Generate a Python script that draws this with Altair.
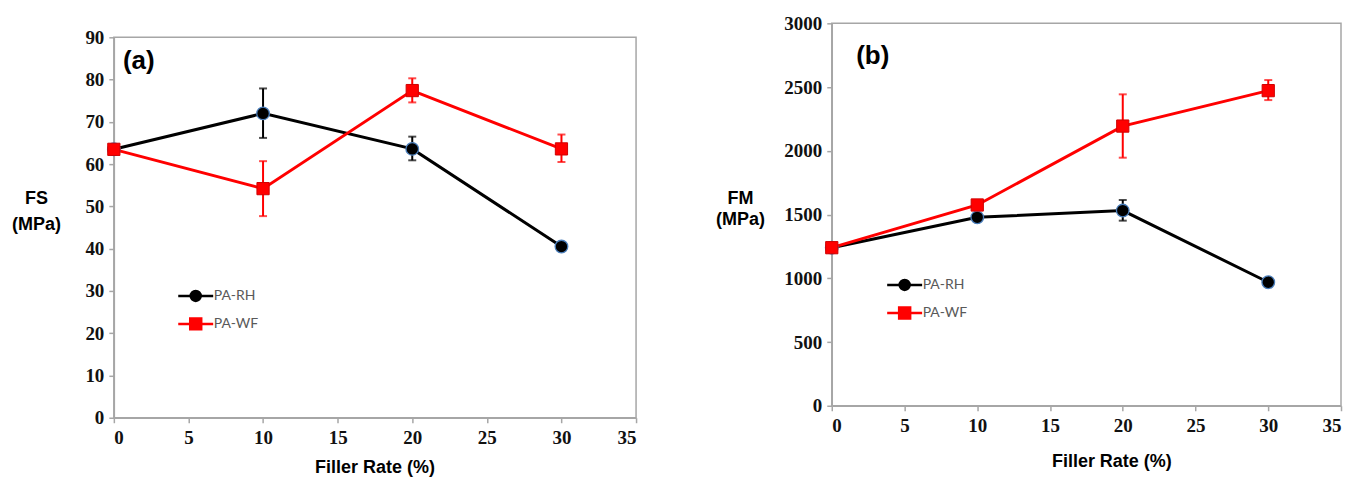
import altair as alt
import pandas as pd

# ---------------- data ----------------
FILLER = [0, 10, 20, 30]
SERIES = ["PA-RH", "PA-WF"]
COLORS = ["#000000", "#ff0000"]

# (a) flexural strength FS (MPa)
FS_RH = [63.5, 72.0, 63.6, 40.5]
FS_RH_LO = [None, 66.2, 60.9, None]
FS_RH_HI = [None, 77.9, 66.5, None]
FS_WF = [63.5, 54.2, 77.4, 63.6]
FS_WF_LO = [None, 47.7, 74.6, 60.5]
FS_WF_HI = [None, 60.7, 80.3, 67.0]

# (b) flexural modulus FM (MPa)
FM_RH = [1240, 1478, 1531, 969]
FM_RH_LO = [None, None, 1452, None]
FM_RH_HI = [None, None, 1614, None]
FM_WF = [1240, 1575, 2194, 2472]
FM_WF_LO = [None, None, 1946, 2398]
FM_WF_HI = [None, None, 2443, 2555]

X_TICKS = [0, 5, 10, 15, 20, 25, 30, 35]
FS_TICKS = [0, 10, 20, 30, 40, 50, 60, 70, 80, 90]
FM_TICKS = [0, 500, 1000, 1500, 2000, 2500, 3000]

X_TITLE = "Filler Rate (%)"
FS_TITLE = ["FS", "(MPa)"]
FM_TITLE = ["FM", "(MPa)"]
PANEL_LABELS = ["(a)", "(b)"]

# legend symbols: line through a marker (custom paths, unit = 5 px)
CIRCLE_PATH = "M-3.5,0H3.5M1,0A1,1,0,1,1,-1,0A1,1,0,1,1,1,0Z"
SQUARE_PATH = "M-3.5,0H3.5M-1.1,-1.1H1.1V1.1H-1.1Z"

AXIS_GRAY = "#a6a6a6"


def series_df(name, vals, lo, hi):
    return pd.DataFrame({"filler": FILLER, "value": vals, "lo": lo, "hi": hi, "series": name})


def panel(rh, rh_lo, rh_hi, wf, wf_lo, wf_hi, ydom, yticks, ytitle, label,
          width, height, ytitle_x, ytitle_y, ytitle_lh, leg_x, leg_y, leg_pad,
          label_x, label_y, xtitle_pad, xtitle_x):
    d_rh = series_df(SERIES[0], rh, rh_lo, rh_hi)
    d_wf = series_df(SERIES[1], wf, wf_lo, wf_hi)
    both = pd.concat([d_rh, d_wf], ignore_index=True)

    x_axis = alt.Axis(values=X_TICKS, title=X_TITLE, grid=False, titlePadding=xtitle_pad,
                      titleX=xtitle_x, labelPadding=6, format="d")
    y_axis = alt.Axis(values=yticks, title=ytitle, grid=False, titleAngle=0,
                      titleX=ytitle_x, titleY=ytitle_y, titleAlign="center",
                      titleBaseline="middle", titleLineHeight=ytitle_lh, labelPadding=5,
                      format="d")
    xs = alt.Scale(domain=[0, 35], nice=False)
    ys = alt.Scale(domain=ydom, nice=False)

    def X():
        return alt.X("filler:Q", scale=xs, axis=x_axis)

    def Y(f):
        return alt.Y(f"{f}:Q", scale=ys, axis=y_axis)

    layers = []
    for d, col in [(d_rh, COLORS[0]), (d_wf, COLORS[1])]:
        layers.append(alt.Chart(d).mark_line(color=col, strokeWidth=3).encode(x=X(), y=Y("value")))
    for d, col in [(d_rh, COLORS[0]), (d_wf, COLORS[1])]:
        eb = alt.Chart(d).transform_filter("isValid(datum.lo)")
        layers.append(eb.mark_rule(color=col, strokeWidth=2).encode(
            x=X(), y=Y("lo"), y2="hi:Q"))
        layers.append(eb.mark_tick(color=col, thickness=2, size=8, orient="horizontal").encode(
            x=X(), y=Y("lo")))
        layers.append(eb.mark_tick(color=col, thickness=2, size=8, orient="horizontal").encode(
            x=X(), y=Y("hi")))
    layers.append(alt.Chart(d_rh).mark_point(shape="circle", filled=True, size=160,
                                              fill="#000000", stroke="#4a7ebb",
                                              strokeWidth=1.3, opacity=1).encode(
        x=X(), y=Y("value")))
    layers.append(alt.Chart(d_wf).mark_point(shape="square", filled=True, size=150,
                                              fill="#ff0000", stroke="#d00000",
                                              strokeWidth=1, opacity=1).encode(
        x=X(), y=Y("value")))

    leg = alt.Legend(orient="none", legendX=leg_x, legendY=leg_y, title=None, padding=0,
                     symbolSize=100, symbolStrokeWidth=2.5, labelFont="Lato",
                     labelFontSize=14, labelColor="#595959", labelOffset=11,
                     rowPadding=leg_pad)
    layers.append(alt.Chart(both).mark_point(size=0, filled=True, strokeWidth=2.5, opacity=1).encode(
        x=X(), y=Y("value"),
        fill=alt.Fill("series:N", scale=alt.Scale(domain=SERIES, range=COLORS), legend=leg),
        stroke=alt.Stroke("series:N", scale=alt.Scale(domain=SERIES, range=COLORS), legend=leg),
        shape=alt.Shape("series:N", scale=alt.Scale(domain=SERIES, range=[CIRCLE_PATH, SQUARE_PATH]),
                        legend=leg),
    ))

    layers.append(alt.Chart(pd.DataFrame({"t": [label]})).mark_text(
        font="Liberation Sans", fontWeight="bold", fontSize=26, align="center",
        baseline="middle", color="#000000").encode(
        text="t:N", x=alt.value(label_x), y=alt.value(label_y)))

    return alt.layer(*layers).properties(width=width, height=height)


pa = panel(FS_RH, FS_RH_LO, FS_RH_HI, FS_WF, FS_WF_LO, FS_WF_HI, [0, 90], FS_TICKS, FS_TITLE,
           PANEL_LABELS[0], 523, 381, -78, 161, 26, 75, 266, 7, 25, 24, 11, 261)
pb = panel(FM_RH, FM_RH_LO, FM_RH_HI, FM_WF, FM_WF_LO, FM_WF_HI, [0, 3000], FM_TICKS, FM_TITLE,
           PANEL_LABELS[1], 510, 383, -92, 175, 21, 66, 255, 7, 41, 33, 17, 280)

# small empty strip that lowers panel (a) relative to panel (b)
spacer = alt.Chart(pd.DataFrame({"s": [0]})).mark_point(opacity=0).encode(
    x=alt.value(0), y=alt.value(0)
).properties(width=1, height=3, view=alt.ViewBackground(stroke="transparent"))

left = alt.vconcat(spacer, pa, spacing=0)

chart = alt.hconcat(left, pb, spacing=76).resolve_scale(
    fill="independent", stroke="independent", shape="independent"
).resolve_legend(
    fill="independent", stroke="independent", shape="independent"
).properties(
    padding={"left": 2, "top": 5, "right": 0, "bottom": 0},
    background="white",
).configure_view(
    stroke=AXIS_GRAY, strokeWidth=1.5
).configure_axis(
    domainColor=AXIS_GRAY, domainWidth=1.5, tickColor=AXIS_GRAY, tickSize=5, tickWidth=1.5,
    labelFont="Liberation Serif", labelFontWeight="bold", labelFontSize=19, labelColor="#111111",
    titleFont="Liberation Sans", titleFontWeight="bold", titleFontSize=18, titleColor="#000000"
)

chart.save("out.html", embed_options={"renderer": "svg", "actions": False})
